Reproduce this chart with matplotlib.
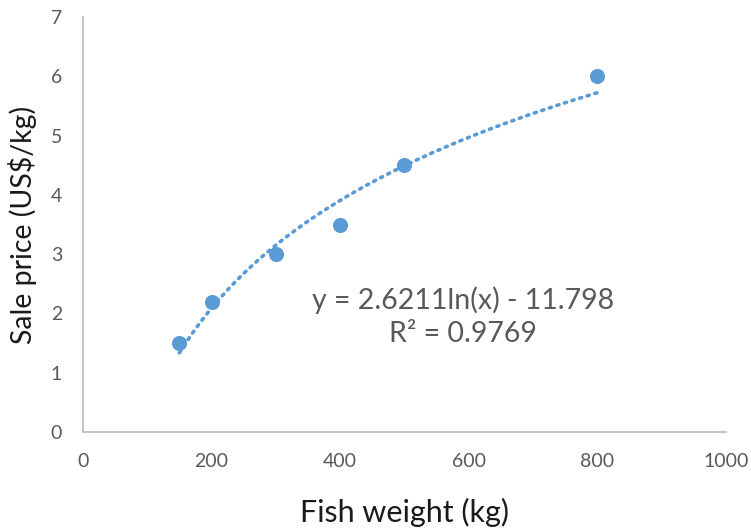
import numpy as np
import matplotlib
matplotlib.use("Agg")
import matplotlib.pyplot as plt

# Fish weight vs sale price observations
weight_kg = [150, 200, 300, 400, 500, 800]
price_usd = [1.5, 2.2, 3.0, 3.5, 4.5, 6.0]

# Logarithmic trendline coefficients
coef_a = 2.6211
coef_b = -11.798
r_squared = 0.9769

x_ticks = [0, 200, 400, 600, 800, 1000]
y_ticks = [0, 1, 2, 3, 4, 5, 6, 7]

plt.rcParams['font.family'] = ['Lato', 'DejaVu Sans']

fig = plt.figure(figsize=(7.51, 5.31), dpi=100)
ax = fig.add_axes([0.1105, 0.1864, 0.856, 0.7816])

blue = '#5B9BD5'
ax.scatter(weight_kg, price_usd, s=118, color=blue, zorder=3, linewidths=0)

xs = np.linspace(min(weight_kg), max(weight_kg), 300)
ys = coef_a * np.log(xs) + coef_b
ax.plot(xs, ys, color=blue, linewidth=2.6, linestyle=(0, (0.6, 1.6)),
        dash_capstyle='round', zorder=2)

ax.set_xlim(0, 1000)
ax.set_ylim(0, 7)
ax.set_xticks(x_ticks)
ax.set_yticks(y_ticks)

for side in ('top', 'right'):
    ax.spines[side].set_visible(False)
for side in ('left', 'bottom'):
    ax.spines[side].set_color('#BFBFBF')
    ax.spines[side].set_linewidth(1.3)

ax.tick_params(axis='both', length=0, labelsize=14, labelcolor='#595959')
ax.tick_params(axis='x', pad=15)
ax.tick_params(axis='y', pad=15)

ax.set_xlabel('Fish weight (kg)', fontsize=22, color='#1a1a1a', labelpad=20)
ax.set_ylabel('Sale price (US$/kg)', fontsize=20.5, color='#1a1a1a', labelpad=10)

ax.text(591, 2.227, f'y = {coef_a}ln(x) - {abs(coef_b)}', fontsize=20.5,
        color='#595959', ha='center', va='center')
ax.text(591, 1.653, f'R² = {r_squared}', fontsize=20.5,
        color='#595959', ha='center', va='center')

fig.savefig('out.png', dpi=100)
